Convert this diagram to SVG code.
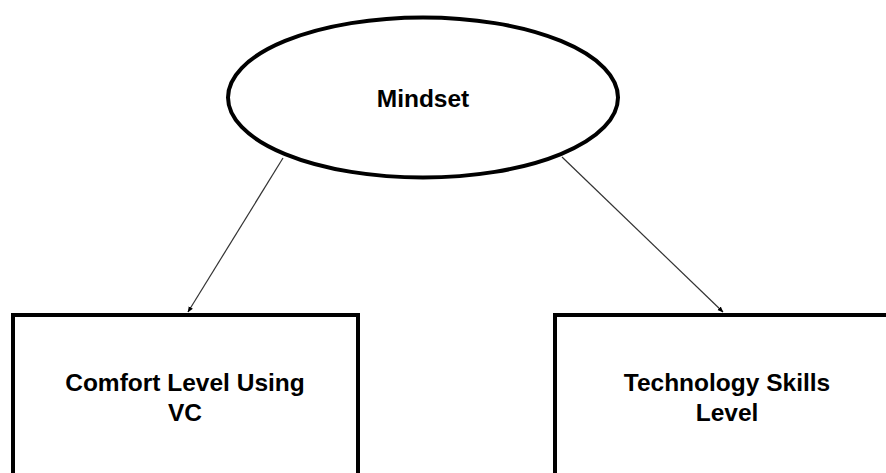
<svg xmlns="http://www.w3.org/2000/svg" width="886" height="473" viewBox="0 0 886 473">
<style>
.shape{fill:#fff;stroke:#000;stroke-width:4}
.lbl{font-family:"Liberation Sans",Arial,sans-serif;font-weight:bold;font-size:24.5px;fill:#000;text-anchor:middle}
.conn{stroke:#333;stroke-width:1.2;fill:none;marker-end:url(#ah)}
</style>
<defs>
<marker id="ah" viewBox="0 0 10 10" refX="9" refY="5" markerWidth="6" markerHeight="6" markerUnits="userSpaceOnUse" orient="auto">
<path d="M0,1 L10,5 L0,9 z" fill="#000"/>
</marker>
</defs>
<rect width="886" height="473" fill="#fff"/>
<g id="connectors">
<line class="conn" x1="283" y1="158" x2="188" y2="312"/>
<line class="conn" x1="562" y1="157" x2="723" y2="312"/>
</g>
<g id="mindset">
<ellipse class="shape" cx="423" cy="97.5" rx="195" ry="80"/>
<text class="lbl" x="423" y="107">Mindset</text>
</g>
<g id="comfort">
<rect class="shape" x="13" y="315" width="345" height="170"/>
<text class="lbl" x="185" y="391">Comfort Level Using</text>
<text class="lbl" x="185" y="421">VC</text>
</g>
<g id="tech">
<rect class="shape" x="555" y="315" width="345" height="170"/>
<text class="lbl" x="727" y="391">Technology Skills</text>
<text class="lbl" x="727" y="421">Level</text>
</g>
</svg>
